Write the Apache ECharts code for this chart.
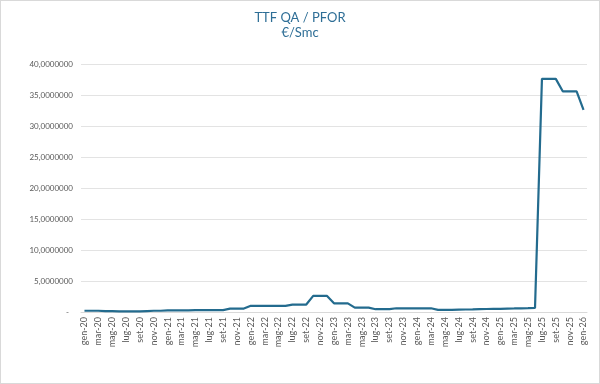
<!DOCTYPE html>
<html><head><meta charset="utf-8">
<script src="https://cdn.jsdelivr.net/npm/echarts@6/dist/echarts.min.js"></script>
<style>
html,body{margin:0;padding:0;background:#fff;}
#c{width:598px;height:382px;border:1px solid #d9d9d9;}
</style></head>
<body><div id="c"></div>
<script>
const months = ['gen','feb','mar','apr','mag','giu','lug','ago','set','ott','nov','dic'];
const categories = [];
for (let y = 20; y <= 26; y++) for (let m = 0; m < 12; m++) { if (y === 26 && m > 0) break; categories.push(months[m] + '-' + y); }
const values = [
  0.20,0.20,0.20,0.15,0.15,0.10,0.10,0.10,0.10,0.15,0.20,0.20,
  0.25,0.25,0.25,0.25,0.30,0.30,0.30,0.30,0.30,0.55,0.55,0.55,
  1.00,1.00,1.00,1.00,1.00,1.00,1.20,1.20,1.20,2.60,2.60,2.60,
  1.40,1.40,1.40,0.70,0.70,0.70,0.45,0.45,0.45,0.60,0.60,0.60,
  0.60,0.60,0.60,0.35,0.35,0.35,0.38,0.40,0.42,0.45,0.48,0.50,
  0.52,0.55,0.57,0.60,0.62,0.65,37.60,37.60,37.60,35.60,35.60,35.60,
  32.60
];
const titleText = 'TTF QA / PFOR';
const subtitleText = '€/Smc';
const chart = echarts.init(document.getElementById('c'));
const FONT = 'Lato, "Open Sans", sans-serif';
chart.setOption({
  animation: false,
  title: {
    text: titleText, subtext: subtitleText, left: 'center', top: 5, itemGap: 2,
    textStyle: {color: '#2e6e96', fontSize: 13, fontWeight: 'normal', fontFamily: FONT},
    subtextStyle: {color: '#2e6e96', fontSize: 13, fontFamily: FONT}
  },
  grid: {left: 80, right: 12, top: 63, bottom: 71},
  xAxis: {
    type: 'category', data: categories, boundaryGap: true,
    axisLine: {lineStyle: {color: '#d9d9d9'}},
    axisTick: {interval: 1, length: 4, lineStyle: {color: '#d9d9d9'}},
    axisLabel: {interval: 1, rotate: 90, color: '#595959', fontSize: 9, fontFamily: FONT, margin: 5}
  },
  yAxis: {
    type: 'value', min: 0, max: 40, interval: 5,
    axisLine: {show: false}, axisTick: {show: false},
    splitLine: {lineStyle: {color: '#e3e3e3'}},
    axisLabel: {color: '#595959', fontSize: 8, fontFamily: FONT, margin: 8,
      formatter: v => v === 0 ? '-  ' : v.toFixed(7).replace('.', ',')}
  },
  series: [{
    type: 'line', data: values, symbol: 'none',
    lineStyle: {color: '#236b8e', width: 2.2}
  }]
});
</script></body></html>
